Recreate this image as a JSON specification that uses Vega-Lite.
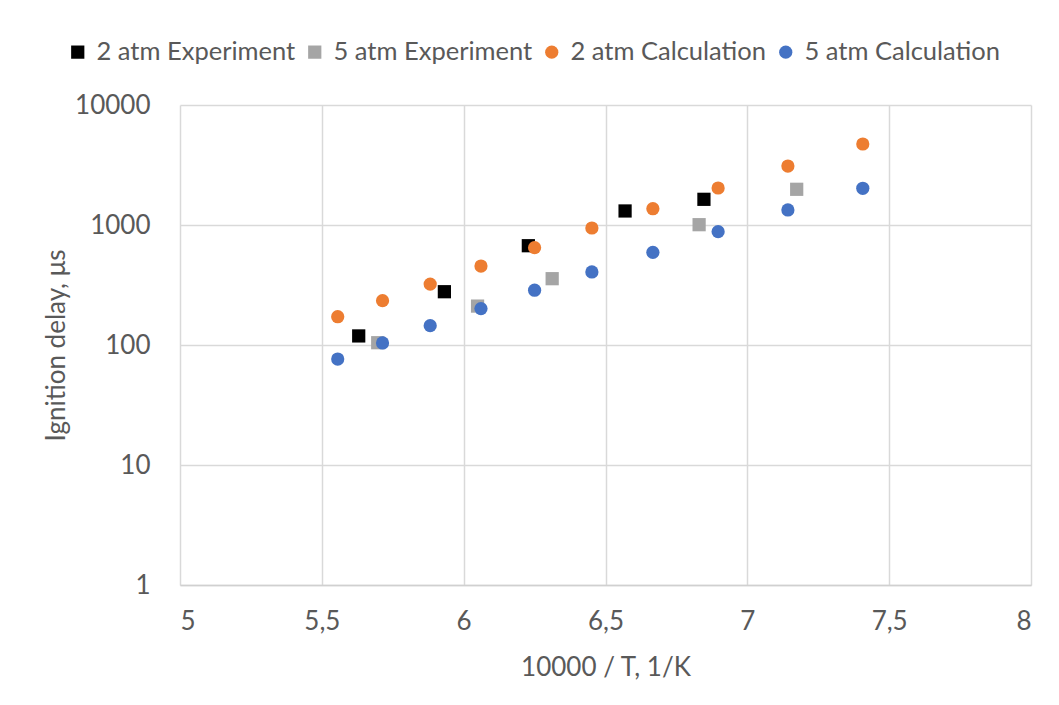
{
  "$schema": "https://vega.github.io/schema/vega-lite/v6.json",
  "width": 851,
  "height": 480,
  "autosize": {"type": "none"},
  "padding": {"left": 180, "top": 105, "right": 28, "bottom": 120},
  "background": "white",
  "config": {
    "font": "Lato",
    "view": {"stroke": null},
    "axis": {
      "labelColor": "#595959",
      "titleColor": "#595959",
      "labelFontSize": 26,
      "titleFontSize": 26,
      "labelFont": "Lato",
      "titleFont": "Lato",
      "titleFontWeight": "normal",
      "gridColor": "#D9D9D9",
      "gridWidth": 1.5,
      "ticks": false,
      "labelLimit": 0
    },
    "legend": {
      "labelFont": "Lato",
      "labelFontSize": 25.5,
      "labelColor": "#595959",
      "labelLimit": 0
    }
  },
  "data": {
    "values": [
      {"inv_T": 5.63, "delay": 119, "series": "2 atm Experiment"},
      {"inv_T": 5.932, "delay": 278, "series": "2 atm Experiment"},
      {"inv_T": 6.228, "delay": 672, "series": "2 atm Experiment"},
      {"inv_T": 6.569, "delay": 1309, "series": "2 atm Experiment"},
      {"inv_T": 6.847, "delay": 1637, "series": "2 atm Experiment"},

      {"inv_T": 5.697, "delay": 104.5, "series": "5 atm Experiment"},
      {"inv_T": 6.049, "delay": 211, "series": "5 atm Experiment"},
      {"inv_T": 6.312, "delay": 357, "series": "5 atm Experiment"},
      {"inv_T": 6.83, "delay": 1006, "series": "5 atm Experiment"},
      {"inv_T": 7.174, "delay": 1984, "series": "5 atm Experiment"},

      {"inv_T": 5.556, "delay": 172, "series": "2 atm Calculation"},
      {"inv_T": 5.714, "delay": 234, "series": "2 atm Calculation"},
      {"inv_T": 5.882, "delay": 322, "series": "2 atm Calculation"},
      {"inv_T": 6.061, "delay": 455, "series": "2 atm Calculation"},
      {"inv_T": 6.25, "delay": 647, "series": "2 atm Calculation"},
      {"inv_T": 6.452, "delay": 944, "series": "2 atm Calculation"},
      {"inv_T": 6.667, "delay": 1367, "series": "2 atm Calculation"},
      {"inv_T": 6.897, "delay": 2034, "series": "2 atm Calculation"},
      {"inv_T": 7.143, "delay": 3100, "series": "2 atm Calculation"},
      {"inv_T": 7.407, "delay": 4732, "series": "2 atm Calculation"},

      {"inv_T": 5.556, "delay": 76.4, "series": "5 atm Calculation"},
      {"inv_T": 5.714, "delay": 104, "series": "5 atm Calculation"},
      {"inv_T": 5.882, "delay": 145, "series": "5 atm Calculation"},
      {"inv_T": 6.061, "delay": 201, "series": "5 atm Calculation"},
      {"inv_T": 6.25, "delay": 286, "series": "5 atm Calculation"},
      {"inv_T": 6.452, "delay": 406, "series": "5 atm Calculation"},
      {"inv_T": 6.667, "delay": 592, "series": "5 atm Calculation"},
      {"inv_T": 6.897, "delay": 880, "series": "5 atm Calculation"},
      {"inv_T": 7.143, "delay": 1334, "series": "5 atm Calculation"},
      {"inv_T": 7.407, "delay": 2023, "series": "5 atm Calculation"}
    ]
  },
  "mark": {"type": "point", "filled": true, "opacity": 1, "strokeWidth": 0},
  "encoding": {
    "x": {
      "field": "inv_T",
      "type": "quantitative",
      "scale": {"domain": [5, 8], "nice": false, "zero": false},
      "axis": {
        "title": "10000 / T, 1/K",
        "values": [5, 5.5, 6, 6.5, 7, 7.5, 8],
        "labelExpr": "replace(toString(datum.value), '.', ',')",
        "labelPadding": 23,
        "titlePadding": 20,
        "domain": true,
        "domainColor": "#D0D0D0",
        "domainWidth": 1.5
      }
    },
    "y": {
      "field": "delay",
      "type": "quantitative",
      "scale": {"type": "log", "domain": [1, 10000], "nice": false},
      "axis": {
        "title": "Ignition delay, μs",
        "values": [1, 10, 100, 1000, 10000],
        "format": "d",
        "labelPadding": 30,
        "titlePadding": 5,
        "domain": false
      }
    },
    "color": {
      "field": "series",
      "type": "nominal",
      "scale": {
        "domain": ["2 atm Experiment", "5 atm Experiment", "2 atm Calculation", "5 atm Calculation"],
        "range": ["#000000", "#A5A5A5", "#ED7D31", "#4472C4"]
      },
      "legend": {
        "title": null,
        "orient": "none",
        "direction": "horizontal",
        "legendX": -115,
        "legendY": -66,
        "symbolSize": 100,
        "labelOffset": 6,
        "columnPadding": 6,
        "padding": 0
      }
    },
    "shape": {
      "field": "series",
      "type": "nominal",
      "scale": {
        "domain": ["2 atm Experiment", "5 atm Experiment", "2 atm Calculation", "5 atm Calculation"],
        "range": ["square", "square", "circle", "circle"]
      },
      "legend": {
        "title": null,
        "orient": "none",
        "direction": "horizontal",
        "legendX": -115,
        "legendY": -66,
        "symbolSize": 100,
        "labelOffset": 6,
        "columnPadding": 6,
        "padding": 0
      }
    },
    "size": {
      "field": "series",
      "type": "nominal",
      "scale": {
        "domain": ["2 atm Experiment", "5 atm Experiment", "2 atm Calculation", "5 atm Calculation"],
        "range": [175, 175, 127, 127]
      },
      "legend": null
    }
  }
}
